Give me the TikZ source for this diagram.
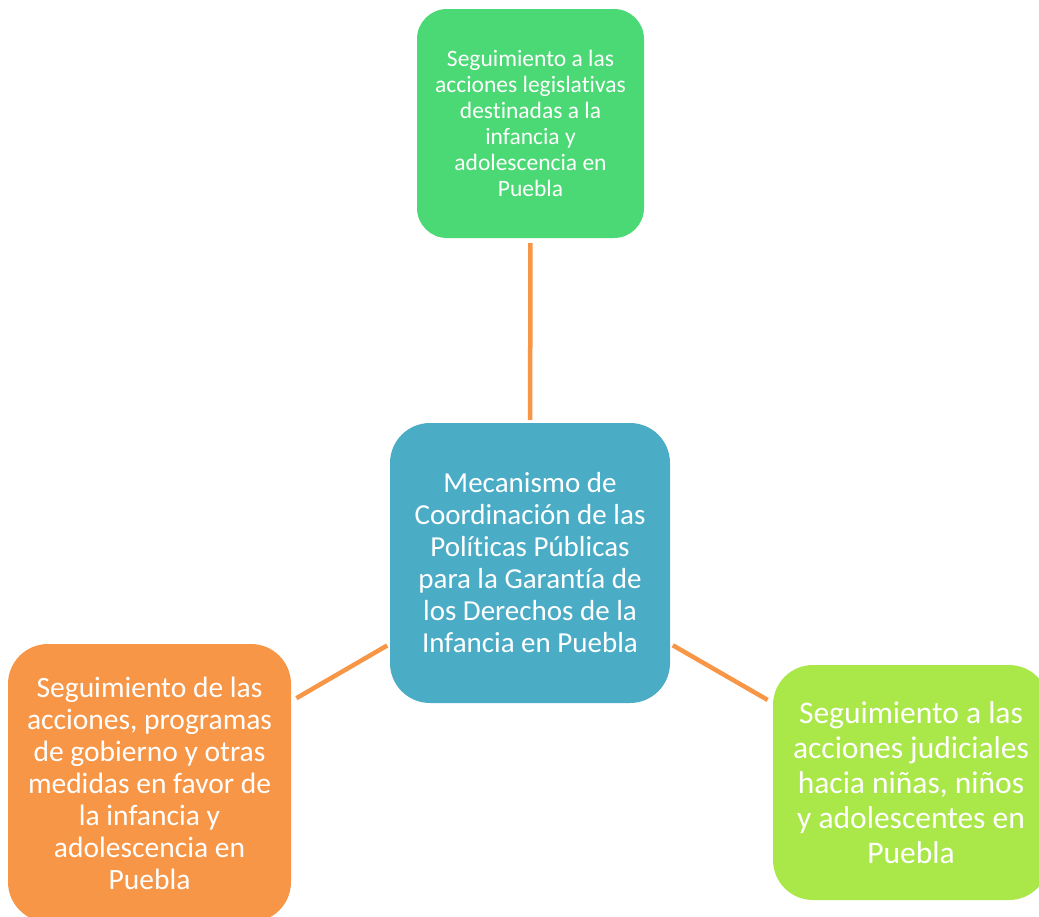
\documentclass[tikz,border=0pt]{standalone}
\usepackage{fontspec}
\setmainfont{Carlito}[Ligatures=NoCommon]
\usepackage{tikz}
\definecolor[named]{myColorCenter}{RGB}{75,172,198}
\definecolor[named]{myColorTop}{RGB}{74,217,116}
\definecolor[named]{myColorLeft}{RGB}{247,150,70}
\definecolor[named]{myColorRight}{RGB}{170,232,74}
\definecolor[named]{myColorLine}{RGB}{247,150,70}

\begin{document}
\begin{tikzpicture}
[%
    x=1pt, y=-1pt,
    block/.style={
      rectangle,
      fill=myColorCenter,
      text=white,
      align=center,
      rounded corners=40pt,
      inner sep=0pt
    },
    link/.style={
      draw=myColorLine,
      line width=4.5pt
    }
  ]
  \useasboundingbox (0,0) rectangle (1039,916);
  %Center
  \draw (530,563) node[block, minimum width=280pt, minimum height=280pt,
    font=\fontsize{29}{32}\selectfont] (MC) {Mecanismo de\\Coordinación de las\\Políticas Públicas\\para la Garantía de\\los Derechos de la\\Infancia en Puebla};
  %Top
  \draw (530.5,123.5) node[block, fill=myColorTop, rounded corners=30pt, minimum width=227pt, minimum height=229pt,
    font=\fontsize{23.5}{26}\selectfont] (LEG) {Seguimiento a las\\acciones legislativas\\destinadas a la\\infancia y\\adolescencia en\\Puebla};
  %Left
  \draw (149.5,783) node[block, fill=myColorLeft, minimum width=283pt, minimum height=278pt,
    font=\fontsize{29.5}{32}\selectfont] (GOB) {Seguimiento de las\\acciones, programas\\de gobierno y otras\\medidas en favor de\\la infancia y\\adolescencia en\\Puebla};
  %Right
  \draw (911,782.5) node[block, fill=myColorRight, minimum width=276pt, minimum height=235pt,
    font=\fontsize{31.5}{35}\selectfont] (JUD) {Seguimiento a las\\acciones judiciales\\hacia niñas, niños\\y adolescentes en\\Puebla};

  \draw[link, shorten <=5pt, shorten >=3pt] (LEG) -- (MC);
  \draw[link, shorten <=6pt, shorten >=3pt] (GOB) -- (MC);
  \draw[link, shorten <=6pt, shorten >=3pt] (JUD) -- (MC);
\end{tikzpicture}
\end{document}
